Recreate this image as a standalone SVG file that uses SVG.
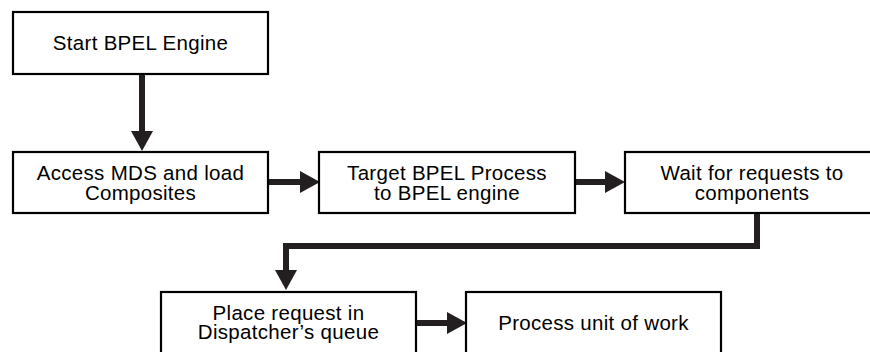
<svg xmlns="http://www.w3.org/2000/svg" width="870" height="352" viewBox="0 0 870 352">
<style>
.box{fill:#fff;stroke:#000;stroke-width:2.2}
.t{font-family:"Liberation Sans",Arial,sans-serif;font-size:20.5px;letter-spacing:0.3px;fill:#000;text-anchor:middle}
.c{fill:none;stroke:#231f20;stroke-width:6;stroke-linejoin:miter}
</style>
<defs>
<marker id="ah" markerUnits="userSpaceOnUse" markerWidth="20" markerHeight="22" viewBox="0 0 20 22" refX="0" refY="11" orient="auto">
<path d="M0,0 L20,11 L0,22 Z" fill="#231f20"/>
</marker>
</defs>
<g id="connectors">
<path class="c" d="M142,74 V131" marker-end="url(#ah)"/>
<path class="c" d="M268,182 H300" marker-end="url(#ah)"/>
<path class="c" d="M575,182 H605" marker-end="url(#ah)"/>
<path class="c" d="M757,213 V246 H286 V270" marker-end="url(#ah)"/>
<path class="c" d="M416,323 H447" marker-end="url(#ah)"/>
</g>
<g id="start">
<rect class="box" x="13" y="12" width="255" height="62"/>
<text class="t" x="140.5" y="50">Start BPEL Engine</text>
</g>
<g id="access">
<rect class="box" x="13" y="152" width="255" height="61"/>
<text class="t" x="140.5" y="180">Access MDS and load</text>
<text class="t" x="140.5" y="199.5">Composites</text>
</g>
<g id="target">
<rect class="box" x="319" y="152" width="256" height="61"/>
<text class="t" x="447" y="180">Target BPEL Process</text>
<text class="t" x="447" y="199.5">to BPEL engine</text>
</g>
<g id="wait">
<rect class="box" x="625" y="152" width="256" height="61"/>
<text class="t" x="752" y="180">Wait for requests to</text>
<text class="t" x="752" y="199.5">components</text>
</g>
<g id="place">
<rect class="box" x="161" y="292" width="255" height="62"/>
<text class="t" x="288.5" y="319.5">Place request in</text>
<text class="t" x="288.5" y="338.5">Dispatcher’s queue</text>
</g>
<g id="process">
<rect class="box" x="466" y="292" width="255" height="62"/>
<text class="t" x="593.5" y="329.5">Process unit of work</text>
</g>
</svg>
